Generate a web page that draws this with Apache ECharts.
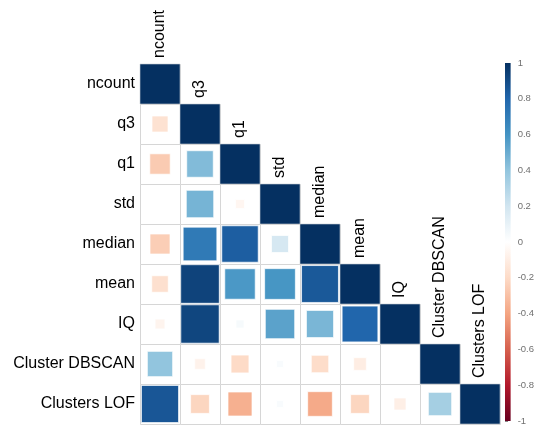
<!DOCTYPE html>
<html>
<head>
<meta charset="utf-8">
<script src="https://cdn.jsdelivr.net/npm/echarts@6/dist/echarts.min.js"></script>
<style>
  html, body { margin: 0; padding: 0; background: #ffffff; }
  #chart { width: 537px; height: 426px; }
</style>
</head>
<body>
<div id="chart"></div>
<script>
// Variable names (rows top to bottom, columns left to right)
const variables = ['ncount', 'q3', 'q1', 'std', 'median', 'mean', 'IQ', 'Cluster DBSCAN', 'Clusters LOF'];

// Lower-triangle correlations, one array per row (values left of the diagonal)
const corrNcount = [];
const corrQ3 = [-0.16];
const corrQ1 = [-0.26, 0.44];
const corrStd = [0.0, 0.47, -0.05];
const corrMedian = [-0.25, 0.71, 0.83, 0.18];
const corrMean = [-0.17, 0.93, 0.58, 0.59, 0.85];
const corrIQ = [-0.06, 0.92, 0.04, 0.54, 0.46, 0.8];
const corrDBSCAN = [0.4, -0.07, -0.2, 0.03, -0.19, -0.1, 0.0];
const corrLOF = [0.86, -0.22, -0.36, 0.03, -0.38, -0.22, -0.09, 0.34];

// Colour-bar tick labels
const colorbarTicks = [-1, -0.8, -0.6, -0.4, -0.2, 0, 0.2, 0.4, 0.6, 0.8, 1];

// Diverging red-white-blue palette, from -1 to 1
const palette = ['#67001F', '#B2182B', '#D6604D', '#F4A582', '#FDDBC7', '#FFFFFF',
                 '#D1E5F0', '#92C5DE', '#4393C3', '#2166AC', '#053061'];

const rows = [corrNcount, corrQ3, corrQ1, corrStd, corrMedian, corrMean, corrIQ, corrDBSCAN, corrLOF];

// [column, row, r] for every lower-triangle cell including the diagonal
const cells = [];
rows.forEach((vals, i) => {
  vals.forEach((v, j) => cells.push([j, i, v]));
  cells.push([i, i, 1]);
});
const diagonal = variables.map((name, i) => [i, i]);

const FONT = '"Liberation Sans", Arial, sans-serif';

function renderCell(params, api) {
  const c = api.coord([api.value(0), api.value(1)]);
  const s = api.size([1, 1]);
  const v = api.value(2);
  const side = s[0] * Math.sqrt(Math.abs(v));
  const full = Math.abs(v) >= 0.999;
  return {
    type: 'group',
    children: [
      {
        type: 'rect',
        shape: { x: Math.round(c[0] - s[0] / 2) + 0.5, y: Math.round(c[1] - s[1] / 2) + 0.5, width: s[0], height: s[1] },
        style: { fill: '#ffffff', stroke: '#d6d6d6', lineWidth: 1 }
      },
      {
        type: 'rect',
        shape: { x: c[0] - side / 2, y: c[1] - side / 2, width: side, height: side },
        style: full
          ? { fill: api.visual('color'), stroke: '#c8ccd4', lineWidth: 0.6 }
          : { fill: api.visual('color'), stroke: 'rgba(255,255,255,0.7)', lineWidth: 1 }
      }
    ]
  };
}

function renderColumnLabel(params, api) {
  const i = api.value(0);
  const c = api.coord([i, api.value(1)]);
  const s = api.size([1, 1]);
  return {
    type: 'group',
    x: c[0],
    y: c[1] - s[1] / 2 - 6,
    rotation: Math.PI / 2,
    children: [{
      type: 'text',
      style: {
        text: variables[i],
        x: 0, y: 0,
        align: 'left',
        verticalAlign: 'middle',
        fill: '#000000',
        font: '16px ' + FONT
      }
    }]
  };
}

function renderColorbar(params, api) {
  const top = api.coord([0, 1]);
  const bottom = api.coord([1, -1]);
  const stops = palette.map((col, k) => ({ offset: 1 - k / (palette.length - 1), color: col }));
  return {
    type: 'rect',
    shape: { x: top[0], y: top[1], width: bottom[0] - top[0], height: bottom[1] - top[1] },
    style: {
      fill: new echarts.graphic.LinearGradient(0, 0, 0, 1, stops)
    }
  };
}

const chart = echarts.init(document.getElementById('chart'), null, { renderer: 'canvas' });

chart.setOption({
  backgroundColor: '#ffffff',
  animation: false,
  grid: [
    { left: 140, top: 64, width: 360, height: 360 },
    { left: 505, top: 63, width: 15, height: 361 }
  ],
  xAxis: [
    {
      gridIndex: 0, type: 'category', data: variables,
      axisLine: { show: false }, axisTick: { show: false }, axisLabel: { show: false }, splitLine: { show: false }
    },
    {
      gridIndex: 1, type: 'value', min: 0, max: 1,
      show: false
    }
  ],
  yAxis: [
    {
      gridIndex: 0, type: 'category', data: variables, inverse: true,
      axisLine: { show: false }, axisTick: { show: false }, splitLine: { show: false },
      axisLabel: { color: '#000000', fontSize: 16, fontFamily: FONT, margin: 5 }
    },
    {
      gridIndex: 1, type: 'value', min: -1, max: 1, interval: 0.2, position: 'right',
      axisLine: { show: false },
      axisTick: { show: true, length: 3, lineStyle: { color: '#8a8a8a', width: 1 } },
      splitLine: { show: false },
      axisLabel: {
        color: '#707070', fontSize: 9.5, fontFamily: FONT, margin: 7,
        formatter: (v) => {
          const t = colorbarTicks.find((x) => Math.abs(x - v) < 1e-6);
          return t === undefined ? '' : String(t);
        }
      }
    }
  ],
  visualMap: {
    show: false,
    type: 'continuous',
    min: -1, max: 1,
    dimension: 2,
    seriesIndex: 0,
    inRange: { color: palette }
  },
  series: [
    {
      type: 'custom',
      xAxisIndex: 0, yAxisIndex: 0,
      renderItem: renderCell,
      data: cells,
      encode: { x: 0, y: 1 },
      silent: true
    },
    {
      type: 'custom',
      xAxisIndex: 0, yAxisIndex: 0,
      renderItem: renderColumnLabel,
      data: diagonal,
      encode: { x: 0, y: 1 },
      silent: true
    },
    {
      type: 'custom',
      xAxisIndex: 1, yAxisIndex: 1,
      renderItem: renderColorbar,
      data: [[0, 0]],
      silent: true
    }
  ]
});
</script>
</body>
</html>
